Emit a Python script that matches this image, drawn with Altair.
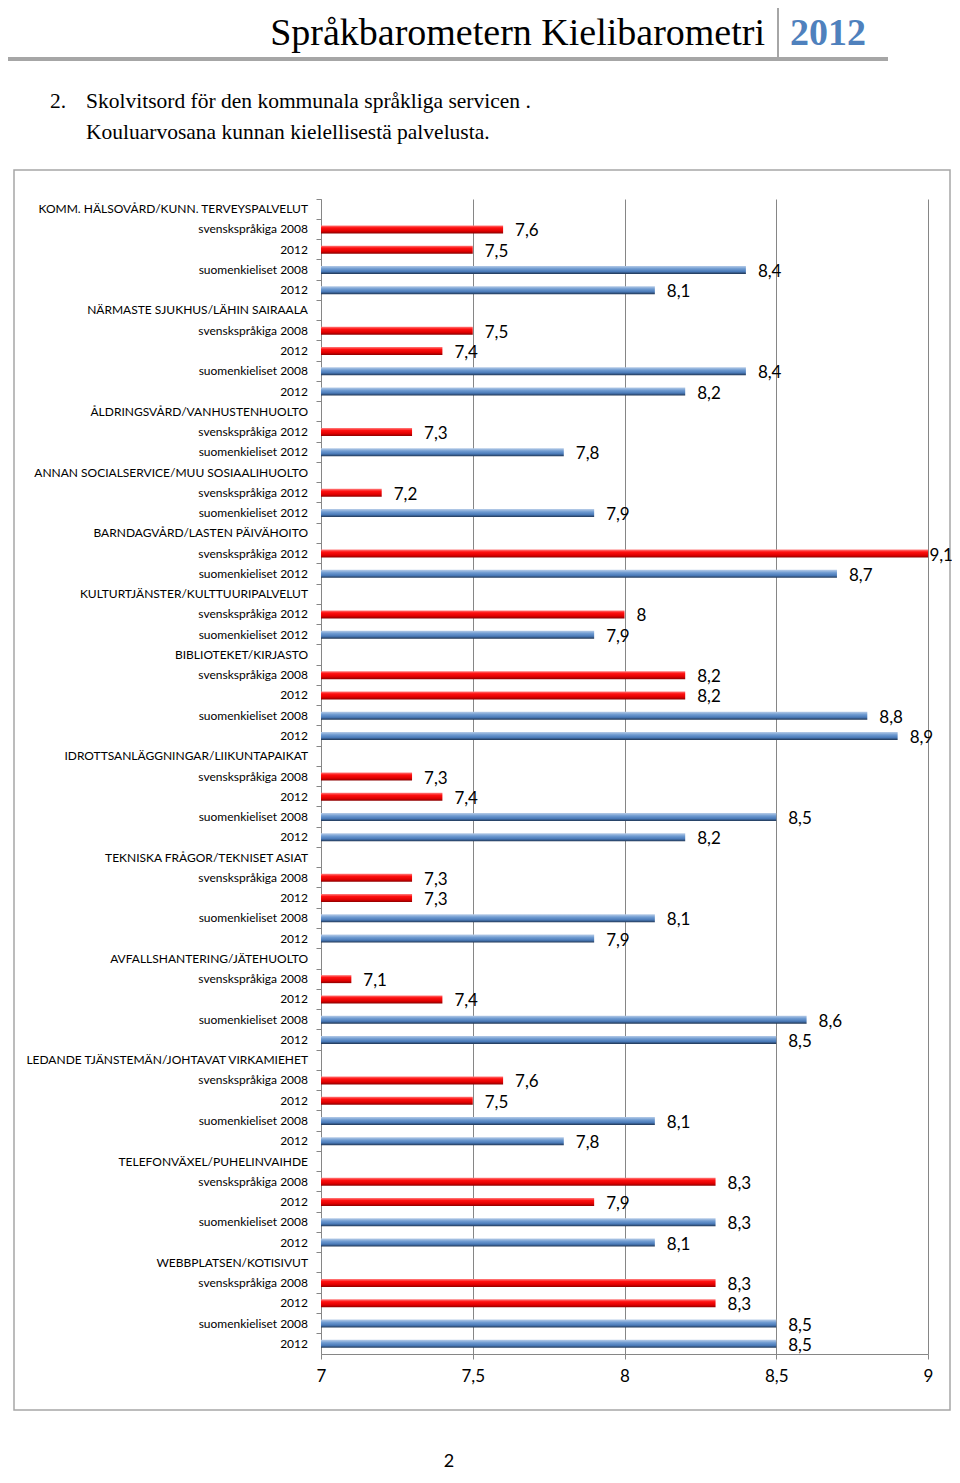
import altair as alt
import pandas as pd

labels = [
    "KOMM. HÄLSOVÅRD/KUNN. TERVEYSPALVELUT", "svenskspråkiga 2008", "2012", "suomenkieliset 2008", "2012",
    "NÄRMASTE SJUKHUS/LÄHIN SAIRAALA", "svenskspråkiga 2008", "2012", "suomenkieliset 2008", "2012",
    "ÅLDRINGSVÅRD/VANHUSTENHUOLTO", "svenskspråkiga 2012", "suomenkieliset 2012",
    "ANNAN SOCIALSERVICE/MUU SOSIAALIHUOLTO", "svenskspråkiga 2012", "suomenkieliset 2012",
    "BARNDAGVÅRD/LASTEN PÄIVÄHOITO", "svenskspråkiga 2012", "suomenkieliset 2012",
    "KULTURTJÄNSTER/KULTTUURIPALVELUT", "svenskspråkiga 2012", "suomenkieliset 2012",
    "BIBLIOTEKET/KIRJASTO", "svenskspråkiga 2008", "2012", "suomenkieliset 2008", "2012",
    "IDROTTSANLÄGGNINGAR/LIIKUNTAPAIKAT", "svenskspråkiga 2008", "2012", "suomenkieliset 2008", "2012",
    "TEKNISKA FRÅGOR/TEKNISET ASIAT", "svenskspråkiga 2008", "2012", "suomenkieliset 2008", "2012",
    "AVFALLSHANTERING/JÄTEHUOLTO", "svenskspråkiga 2008", "2012", "suomenkieliset 2008", "2012",
    "LEDANDE TJÄNSTEMÄN/JOHTAVAT VIRKAMIEHET", "svenskspråkiga 2008", "2012", "suomenkieliset 2008", "2012",
    "TELEFONVÄXEL/PUHELINVAIHDE", "svenskspråkiga 2008", "2012", "suomenkieliset 2008", "2012",
    "WEBBPLATSEN/KOTISIVUT", "svenskspråkiga 2008", "2012", "suomenkieliset 2008", "2012",
]

groups = [
    "h", "sv", "sv", "fi", "fi",
    "h", "sv", "sv", "fi", "fi",
    "h", "sv", "fi",
    "h", "sv", "fi",
    "h", "sv", "fi",
    "h", "sv", "fi",
    "h", "sv", "sv", "fi", "fi",
    "h", "sv", "sv", "fi", "fi",
    "h", "sv", "sv", "fi", "fi",
    "h", "sv", "sv", "fi", "fi",
    "h", "sv", "sv", "fi", "fi",
    "h", "sv", "sv", "fi", "fi",
    "h", "sv", "sv", "fi", "fi",
]

values = [
    None, 7.6, 7.5, 8.4, 8.1,
    None, 7.5, 7.4, 8.4, 8.2,
    None, 7.3, 7.8,
    None, 7.2, 7.9,
    None, 9.1, 8.7,
    None, 8.0, 7.9,
    None, 8.2, 8.2, 8.8, 8.9,
    None, 7.3, 7.4, 8.5, 8.2,
    None, 7.3, 7.3, 8.1, 7.9,
    None, 7.1, 7.4, 8.6, 8.5,
    None, 7.6, 7.5, 8.1, 7.8,
    None, 8.3, 7.9, 8.3, 8.1,
    None, 8.3, 8.3, 8.5, 8.5,
]

x_ticks = [7, 7.5, 8, 8.5, 9]

rows = [f"r{i:02d}" for i in range(len(labels))]
df = pd.DataFrame({"row": rows, "label": labels, "group": groups, "value": values})

FONT = "Lato"
GRAY = "#868686"

y_enc = alt.Y(
    "row:O", sort=rows,
    scale=alt.Scale(paddingInner=0, paddingOuter=0),
    axis=alt.Axis(labels=False, ticks=True, bandPosition=0, tickSize=5, tickColor=GRAY,
                  domainColor=GRAY, title=None, grid=False),
)
x_enc_axis = alt.Axis(values=x_ticks, grid=True, gridColor=GRAY, domainColor=GRAY, tickColor=GRAY,
                      tickSize=5, labelFontSize=17, labelFont=FONT, labelColor="black",
                      labelPadding=9, labelFlush=False, title=None,
                      labelExpr="replace(toString(datum.value), '.', ',')")
x_scale = alt.Scale(domain=[7, 9], nice=False, zero=False, clamp=True)

red_grad = alt.LinearGradient(gradient="linear", x1=0, y1=0, x2=0, y2=1, stops=[
    alt.GradientStop(color="#ff8080", offset=0),
    alt.GradientStop(color="#ff1010", offset=0.3),
    alt.GradientStop(color="#e00000", offset=0.7),
    alt.GradientStop(color="#8a0000", offset=1)])
blue_grad = alt.LinearGradient(gradient="linear", x1=0, y1=0, x2=0, y2=1, stops=[
    alt.GradientStop(color="#b8cde8", offset=0),
    alt.GradientStop(color="#6f9bd1", offset=0.35),
    alt.GradientStop(color="#4a7ab8", offset=0.7),
    alt.GradientStop(color="#1f3553", offset=1)])

base = alt.Chart(df)

red_bars = base.transform_filter("datum.group == 'sv'").mark_bar(height=8, fill=red_grad).encode(
    x=alt.X("value:Q", scale=x_scale, axis=x_enc_axis), x2=alt.datum(7), y=y_enc)
blue_bars = base.transform_filter("datum.group == 'fi'").mark_bar(height=8, fill=blue_grad).encode(
    x=alt.X("value:Q", scale=x_scale, axis=x_enc_axis), x2=alt.datum(7), y=y_enc)

value_labels = base.transform_filter("datum.value != null").transform_calculate(
    txt="replace(toString(datum.value), '.', ',')",
    labx="min(datum.value, 8.965)",
).mark_text(align="left", baseline="middle", dx=12, dy=2, fontSize=17, font=FONT, color="black").encode(
    x=alt.X("labx:Q", scale=x_scale, axis=x_enc_axis), y=y_enc, text="txt:N")

cat_labels = base.mark_text(align="right", baseline="middle", fontSize=12, font=FONT, color="black").encode(
    x=alt.value(-13), y=y_enc, text="label:N")

one = alt.Chart(pd.DataFrame({"a": [0]}))

box = one.mark_rect(fill="transparent", stroke="#a6a6a6", strokeWidth=1.5).encode(
    x=alt.value(-307), x2=alt.value(629), y=alt.value(-29), y2=alt.value(1211))

hline = one.mark_rule(color="#a6a6a6", strokeWidth=4).encode(
    x=alt.value(-313), x2=alt.value(567), y=alt.value(-140))
vline = one.mark_rule(color="#a6a6a6", strokeWidth=2).encode(
    x=alt.value(457), y=alt.value(-191), y2=alt.value(-141))

head1 = one.mark_text(align="right", baseline="alphabetic", fontSize=38, font="Liberation Serif",
                      color="black", text="Språkbarometern Kielibarometri").encode(
    x=alt.value(444), y=alt.value(-154))
head2 = one.mark_text(align="left", baseline="alphabetic", fontSize=38, font="Liberation Serif",
                      fontWeight="bold", color="#4f81bd", text="2012").encode(
    x=alt.value(469), y=alt.value(-154))

t_num = one.mark_text(align="left", baseline="middle", fontSize=21.5, font="Liberation Serif",
                      color="black", text="2.").encode(x=alt.value(-271), y=alt.value(-97))
t_line1 = one.mark_text(align="left", baseline="middle", fontSize=21.5, font="Liberation Serif",
                        color="black", text="Skolvitsord för den kommunala språkliga servicen .").encode(
    x=alt.value(-235), y=alt.value(-97))
t_line2 = one.mark_text(align="left", baseline="middle", fontSize=21.5, font="Liberation Serif",
                        color="black", text="Kouluarvosana kunnan kielellisestä palvelusta.").encode(
    x=alt.value(-235), y=alt.value(-66))

page_no = one.mark_text(align="center", baseline="middle", fontSize=18, font=FONT,
                        color="black", text="2").encode(x=alt.value(128), y=alt.value(1263))

chart = alt.layer(
    box, hline, vline, head1, head2, t_num, t_line1, t_line2, page_no,
    red_bars, blue_bars, value_labels, cat_labels,
).properties(
    width=607, height=1155,
    autosize=alt.AutoSizeParams(type="none"),
    padding={"left": 313, "top": 191, "right": 24, "bottom": 121},
).configure_view(strokeWidth=0)

chart.save("out.html", embed_options={"renderer": "svg", "actions": False})
